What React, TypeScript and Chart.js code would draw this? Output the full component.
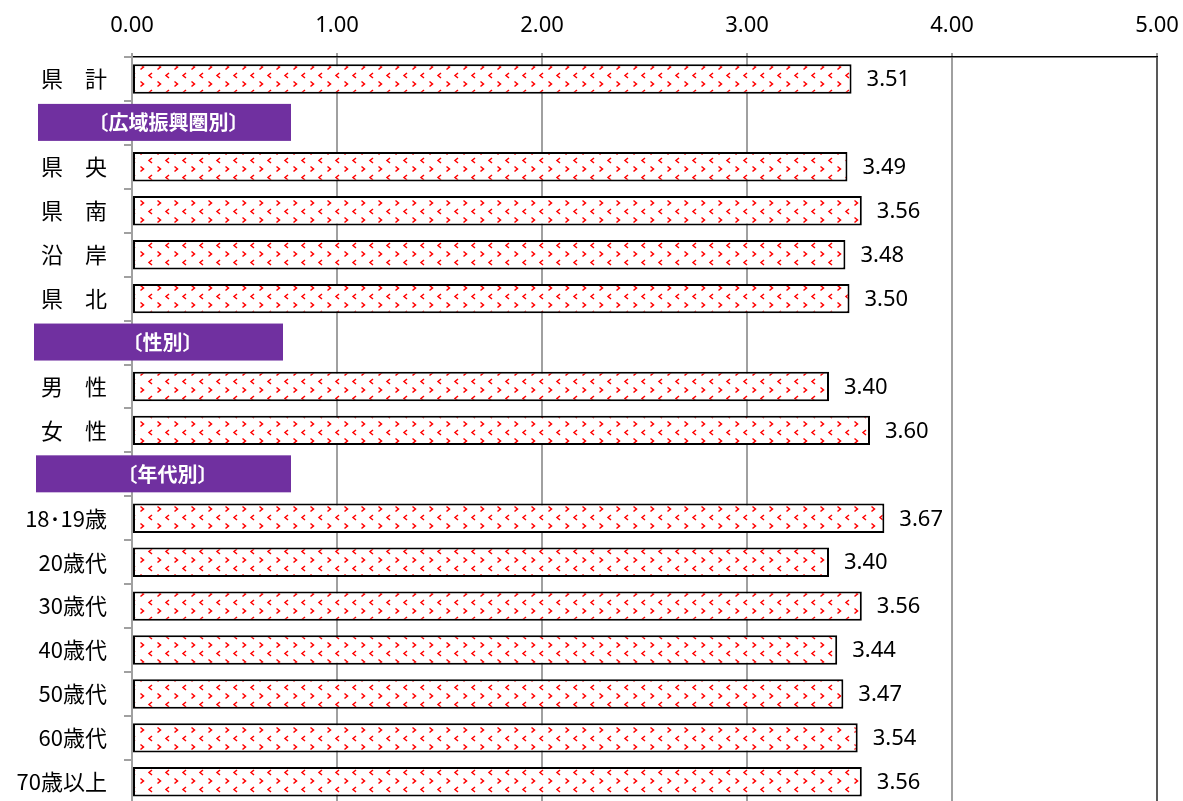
import React, { useEffect, useRef } from "react";
import { Chart, registerables } from "chart.js";

Chart.register(...registerables);

const categories: string[] = [
  "県　計",
  "〔広域振興圏別〕",
  "県　央",
  "県　南",
  "沿　岸",
  "県　北",
  "〔性別〕",
  "男　性",
  "女　性",
  "〔年代別〕",
  "18･19歳",
  "20歳代",
  "30歳代",
  "40歳代",
  "50歳代",
  "60歳代",
  "70歳以上",
];

const values: (number | null)[] = [
  3.51, null, 3.49, 3.56, 3.48, 3.5, null, 3.4, 3.6, null, 3.67, 3.4, 3.56, 3.44, 3.47, 3.54, 3.56,
];

const headerIndices: number[] = [1, 6, 9];
const headerBoxes: { left: number; right: number }[] = [
  { left: 38, right: 291 },
  { left: 34, right: 283 },
  { left: 36, right: 291 },
];

const xTicks: number[] = [0, 1, 2, 3, 4, 5];

const NUM_FONT = "'Noto Sans', 'DejaVu Sans', sans-serif";
const CJK_FONT = "'Noto Sans CJK JP', 'Noto Sans', sans-serif";

function makePattern(): CanvasPattern | string {
  const size = 17;
  const c = document.createElement("canvas");
  c.width = size;
  c.height = size;
  const g = c.getContext("2d");
  if (!g) return "#fff";
  g.fillStyle = "#ffffff";
  g.fillRect(0, 0, size, size);
  g.strokeStyle = "#ff0000";
  g.lineWidth = 1.5;
  const chevron = (cx: number, cy: number, dir: number) => {
    for (let dx = -1; dx <= 1; dx++) {
      for (let dy = -1; dy <= 1; dy++) {
        const x = cx + dx * size;
        const y = cy + dy * size;
        g.beginPath();
        g.moveTo(x - 1.5 * dir, y - 2.5);
        g.lineTo(x + 1.5 * dir, y);
        g.lineTo(x - 1.5 * dir, y + 2.5);
        g.stroke();
      }
    }
  };
  chevron(6, 16, 1);
  chevron(14.5, 7.5, -1);
  return g.createPattern(c, "repeat") || "#fff";
}

const valueLabelPlugin = {
  id: "valueLabels",
  afterDatasetsDraw(chart: any) {
    const ctx = chart.ctx;
    const meta = chart.getDatasetMeta(0);
    ctx.save();
    ctx.font = `22px ${NUM_FONT}`;
    ctx.fillStyle = "#000";
    ctx.textAlign = "left";
    ctx.textBaseline = "middle";
    meta.data.forEach((bar: any, i: number) => {
      const v = values[i];
      if (v === null || v === undefined) return;
      ctx.fillText(v.toFixed(2), bar.x + 15, bar.y + 1);
    });
    ctx.restore();
  },
};

const headerPlugin = {
  id: "headers",
  afterDraw(chart: any) {
    const ctx = chart.ctx;
    const yScale = chart.scales.y;
    ctx.save();
    headerIndices.forEach((idx, k) => {
      const yc = yScale.getPixelForValue(idx) - 1;
      const box = headerBoxes[k];
      ctx.fillStyle = "#7030A0";
      ctx.fillRect(box.left, yc - 18, box.right - box.left, 37);
      ctx.fillStyle = "#ffffff";
      ctx.font = `bold 20px ${CJK_FONT}`;
      ctx.textAlign = "center";
      ctx.textBaseline = "middle";
      ctx.fillText(categories[idx], (box.left + box.right) / 2 + 4, yc + 1);
    });
    ctx.restore();
  },
};

export default function App() {
  const ref = useRef<HTMLCanvasElement | null>(null);

  useEffect(() => {
    document.body.style.margin = "0";
    const canvas = ref.current;
    if (!canvas) return;
    const pattern = makePattern();
    const chart = new Chart(canvas, {
      type: "bar",
      data: {
        labels: categories,
        datasets: [
          {
            data: values as any,
            backgroundColor: pattern as any,
            borderColor: "#000000",
            borderWidth: 2,
            borderSkipped: false,
            barPercentage: 0.67,
            categoryPercentage: 1,
          },
        ],
      },
      options: {
        indexAxis: "y",
        responsive: false,
        animation: false,
        devicePixelRatio: 1,
        layout: { padding: { left: 0, right: 26, top: 0, bottom: 3 } },
        plugins: {
          legend: { display: false },
          tooltip: { enabled: false },
        },
        scales: {
          x: {
            position: "top",
            min: 0,
            max: 5,
            afterFit: (scale: any) => {
              scale.height = 57;
              scale.paddingLeft = 0;
              scale.paddingRight = 0;
            },
            afterBuildTicks: (scale: any) => {
              scale.ticks = xTicks.map((v) => ({ value: v }));
            },
            ticks: {
              font: { family: NUM_FONT, size: 22 },
              color: "#000",
              padding: 14,
              callback: (v: any) => Number(v).toFixed(2),
            },
            grid: {
              color: (c: any) => (c.tick && c.tick.value === 5 ? "#595959" : "#a0a0a0"),
              lineWidth: 2,
              tickLength: 4,
              tickColor: "#a0a0a0",
            },
            border: { display: true, color: "#000", width: 1.5 },
          },
          y: {
            afterFit: (scale: any) => {
              scale.width = 132;
            },
            ticks: {
              font: { family: CJK_FONT, size: 22 },
              color: "#000",
              padding: 17,
              autoSkip: false,
              callback: (_v: any, i: number) => (headerIndices.includes(i) ? "" : categories[i]),
            },
            grid: {
              offset: true,
              drawOnChartArea: false,
              drawTicks: true,
              tickLength: 8,
              color: "#a0a0a0",
              lineWidth: 2,
            },
            border: { display: true, color: "#a0a0a0", width: 2 },
          },
        },
      },
      plugins: [valueLabelPlugin, headerPlugin],
    });
    return () => chart.destroy();
  }, []);

  return (
    <div style={{ width: 1183, height: 801, overflow: "hidden", background: "#fff" }}>
      <canvas ref={ref} width={1183} height={834} style={{ display: "block" }} />
    </div>
  );
}
